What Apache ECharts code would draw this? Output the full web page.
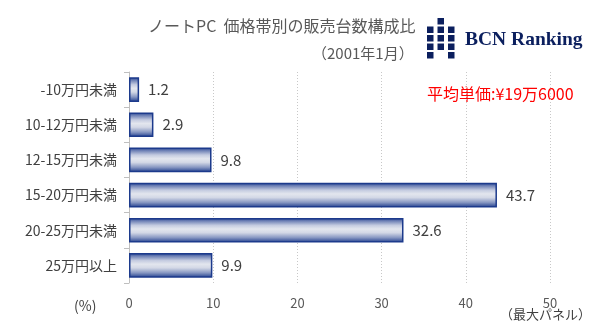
<!DOCTYPE html>
<html><head><meta charset="utf-8">
<script src="https://cdn.jsdelivr.net/npm/echarts@6/dist/echarts.min.js"></script>
<style>html,body{margin:0;padding:0;background:#fff}#c{width:591px;height:331px}</style>
</head><body><div id="c"></div>
<script>
const categories = ['-10万円未満','10-12万円未満','12-15万円未満','15-20万円未満','20-25万円未満','25万円以上'];
const shares = [1.2, 2.9, 9.8, 43.7, 32.6, 9.9];
const xTicks = [0, 10, 20, 30, 40, 50];

const FONT = '"Noto Sans CJK JP", "Noto Sans", sans-serif';
const chart = echarts.init(document.getElementById('c'), null, {renderer: 'canvas'});

const logoCells = [[1,0],[0,1],[1,1],[2,1],[0,2],[1,2],[2,2],[0,3],[1,3],[2,3],[0,4],[2,4]];
const logo = logoCells.map(([c, r]) => ({
  type: 'rect',
  shape: {x: 427 + c * 10.5, y: 18 + r * 8.5, width: 6.5, height: 6.5},
  style: {fill: '#0b1f5e'}
}));

chart.setOption({
  animation: false,
  grid: {left: 129, right: 41, top: 72, bottom: 48, containLabel: false},
  xAxis: {
    type: 'value', min: 0, max: 50, interval: 10,
    axisLine: {show: false}, axisTick: {show: false},
    axisLabel: {color: '#595959', fontSize: 13, fontFamily: FONT, margin: 14,
      formatter: v => xTicks.includes(v) ? String(v) : ''},
    splitLine: {show: true, lineStyle: {color: '#c8c8c8', type: [1, 2], width: 1}}
  },
  yAxis: {
    type: 'category', data: categories, inverse: true,
    axisLine: {show: true, lineStyle: {color: '#bfbfbf', width: 1}},
    axisTick: {show: true, length: 5, lineStyle: {color: '#bfbfbf'}},
    axisLabel: {color: '#404040', fontSize: 14, fontFamily: FONT, margin: 12}
  },
  series: [{
    type: 'bar', data: shares, barWidth: '70%',
    itemStyle: {
      borderColor: '#1c3a8c', borderWidth: 1.5,
      color: new echarts.graphic.LinearGradient(0, 0, 0, 1, [
        {offset: 0, color: '#1d3b8b'},
        {offset: 0.12, color: '#6d80b5'},
        {offset: 0.3, color: '#c4cbe0'},
        {offset: 0.45, color: '#e3e6ee'},
        {offset: 0.6, color: '#d3d8e6'},
        {offset: 0.8, color: '#8797c2'},
        {offset: 1, color: '#1d3b8b'}
      ])
    },
    label: {show: true, position: 'right', distance: 9, color: '#404040', fontSize: 15, fontFamily: FONT}
  }],
  graphic: [
    {type: 'text', left: 148, top: 18, style: {text: 'ノートPC  価格帯別の販売台数構成比', fill: '#595959', font: '16px ' + FONT}},
    {type: 'text', left: 312, top: 46, style: {text: '（2001年1月）', fill: '#595959', font: '15px ' + FONT}},
    {type: 'text', left: 465, top: 30, style: {text: 'BCN Ranking', fill: '#0b1f5e', font: 'bold 19.5px "Liberation Serif", "DejaVu Serif", serif'}},
    {type: 'text', left: 427, top: 86, style: {text: '平均単価:¥19万6000', fill: '#ff0000', font: '16px ' + FONT}},
    {type: 'text', left: 74, top: 299, style: {text: '(%)', fill: '#404040', font: '14px ' + FONT}},
    {type: 'text', left: 500, top: 308, style: {text: '（最大パネル）', fill: '#404040', font: '13px ' + FONT}},
    ...logo
  ]
});
</script></body></html>
